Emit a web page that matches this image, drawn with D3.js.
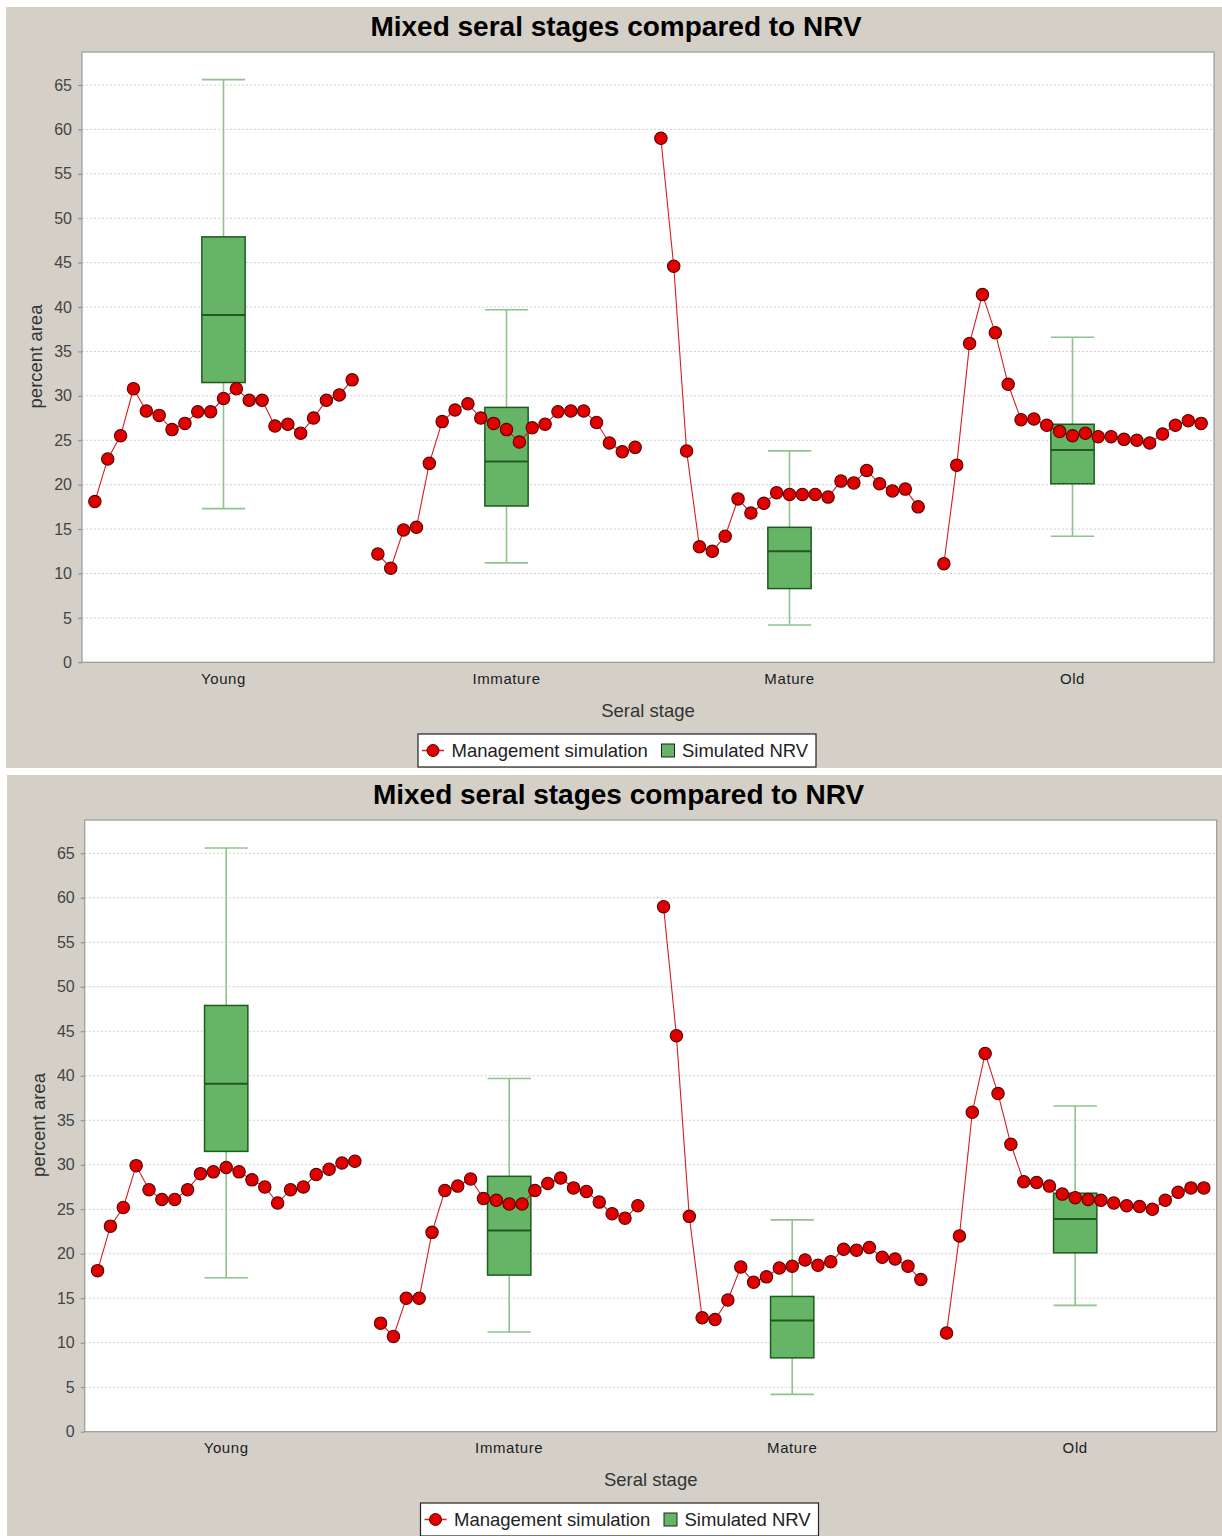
<!DOCTYPE html>
<html>
<head>
<meta charset="utf-8">
<script src="https://cdn.jsdelivr.net/npm/d3@7"></script>
<style>
  body { margin: 0; background: #ffffff; }
  svg { display: block; font-family: "Liberation Sans", Arial, sans-serif; }
</style>
</head>
<body>
<svg id="chart" width="1222" height="1536"></svg>
<script>
// Seral stage categories and y-axis ticks
const stages = ["Young", "Immature", "Mature", "Old"];
const yTicks = [0, 5, 10, 15, 20, 25, 30, 35, 40, 45, 50, 55, 60, 65];

// Simulated NRV box-and-whisker statistics per stage (percent area)
const nrvLow    = [17.3, 11.2, 4.2, 14.2];
const nrvQ1     = [31.5, 17.6, 8.3, 20.1];
const nrvMedian = [39.1, 22.6, 12.5, 23.9];
const nrvQ3     = [47.9, 28.7, 15.2, 26.8];
const nrvHigh   = [65.6, 39.7, 23.8, 36.6];

// Management simulation, first run: percent area per time step within each stage
const runAYoung    = [18.1, 22.9, 25.5, 30.8, 28.3, 27.8, 26.2, 26.9, 28.2, 28.2, 29.7, 30.8, 29.5, 29.5, 26.6, 26.8, 25.8, 27.5, 29.5, 30.1, 31.8];
const runAImmature = [12.2, 10.6, 14.9, 15.2, 22.4, 27.1, 28.4, 29.1, 27.5, 26.9, 26.2, 24.8, 26.4, 26.8, 28.2, 28.3, 28.3, 27.0, 24.7, 23.7, 24.2];
const runAMature   = [59.0, 44.6, 23.8, 13.0, 12.5, 14.2, 18.4, 16.8, 17.9, 19.1, 18.9, 18.9, 18.9, 18.6, 20.4, 20.2, 21.6, 20.1, 19.3, 19.5, 17.5];
const runAOld      = [11.1, 22.2, 35.9, 41.4, 37.1, 31.3, 27.3, 27.4, 26.7, 26.0, 25.5, 25.8, 25.4, 25.4, 25.1, 25.0, 24.7, 25.7, 26.7, 27.2, 26.9];

// Management simulation, second run
const runBYoung    = [18.1, 23.1, 25.2, 29.9, 27.2, 26.1, 26.1, 27.2, 29.0, 29.2, 29.7, 29.2, 28.3, 27.5, 25.7, 27.2, 27.5, 28.9, 29.5, 30.2, 30.4];
const runBImmature = [12.2, 10.7, 15.0, 15.0, 22.4, 27.1, 27.6, 28.4, 26.2, 26.0, 25.6, 25.6, 27.1, 27.9, 28.5, 27.4, 27.0, 25.8, 24.5, 24.0, 25.4];
const runBMature   = [59.0, 44.5, 24.2, 12.8, 12.6, 14.8, 18.5, 16.8, 17.4, 18.4, 18.6, 19.3, 18.7, 19.1, 20.5, 20.4, 20.7, 19.6, 19.4, 18.6, 17.1];
const runBOld      = [11.1, 22.0, 35.9, 42.5, 38.0, 32.3, 28.1, 28.0, 27.6, 26.7, 26.3, 26.1, 26.0, 25.7, 25.4, 25.3, 25.0, 26.0, 26.9, 27.4, 27.4];

const titleText = "Mixed seral stages compared to NRV";
const xTitle = "Seral stage";
const yTitle = "percent area";
const legendLine = "Management simulation";
const legendBox = "Simulated NRV";

const COLORS = {
  panel: "#d4d0c8",
  grid: "#cfcfcf",
  frame: "#9a9a9a",
  boxFill: "#66b566",
  boxStroke: "#1f5a1f",
  whisker: "#8cc48c",
  lineRed: "#d42020",
  dotFill: "#e10000",
  dotStroke: "#5a0000",
  text: "#333333"
};

const svg = d3.select("#chart");

function drawChart(cfg, runs) {
  const g = svg.append("g");

  // panel background
  g.append("rect")
    .attr("x", cfg.panel[0]).attr("y", cfg.panel[1])
    .attr("width", cfg.panel[2]).attr("height", cfg.panel[3])
    .attr("fill", COLORS.panel);

  const x = d3.scaleBand().domain(stages).range([cfg.left, cfg.right]).paddingInner(0).paddingOuter(0);
  const y = d3.scaleLinear().domain([0, 65]).range([cfg.y0, cfg.y65]);

  // plot area
  g.append("rect")
    .attr("x", cfg.left).attr("y", cfg.top)
    .attr("width", cfg.right - cfg.left).attr("height", cfg.y0 - cfg.top)
    .attr("fill", "#ffffff");

  // dashed horizontal grid
  g.append("g").selectAll("line")
    .data(yTicks.filter(t => t > 0))
    .join("line")
    .attr("x1", cfg.left).attr("x2", cfg.right)
    .attr("y1", d => y(d)).attr("y2", d => y(d))
    .attr("stroke", COLORS.grid)
    .attr("stroke-width", 1)
    .attr("stroke-dasharray", "2,2");

  // title
  g.append("text")
    .attr("x", cfg.titleX).attr("y", cfg.titleY)
    .attr("text-anchor", "middle")
    .attr("font-size", 28).attr("font-weight", "bold")
    .attr("fill", "#000")
    .text(titleText);

  // y axis
  const yAxis = g.append("g")
    .attr("transform", `translate(${cfg.left},0)`)
    .call(d3.axisLeft(y).tickValues(yTicks).tickSize(4).tickPadding(6).tickFormat(d3.format("d")));
  yAxis.select(".domain").remove();
  yAxis.selectAll(".tick line").attr("stroke", "#888");
  yAxis.selectAll(".tick text")
    .attr("font-size", 16).attr("fill", "#444")
    .attr("font-family", "'Liberation Sans', Arial, sans-serif");

  // x axis (category labels)
  const xAxis = g.append("g")
    .attr("transform", `translate(0,${cfg.y0})`)
    .call(d3.axisBottom(x).tickSize(0).tickPadding(11));
  xAxis.select(".domain").remove();
  xAxis.selectAll(".tick text")
    .attr("font-size", 15)
    .attr("letter-spacing", "0.6px")
    .attr("fill", "#1c1c1c")
    .attr("font-family", "'Liberation Sans', Arial, sans-serif");

  // plot frame
  g.append("rect")
    .attr("x", cfg.left).attr("y", cfg.top)
    .attr("width", cfg.right - cfg.left).attr("height", cfg.y0 - cfg.top)
    .attr("fill", "none").attr("stroke", COLORS.frame).attr("stroke-width", 1.2);

  // axis titles
  g.append("text")
    .attr("x", (cfg.left + cfg.right) / 2).attr("y", cfg.xTitleY)
    .attr("text-anchor", "middle").attr("font-size", 18.5).attr("fill", COLORS.text)
    .text(xTitle);
  g.append("text")
    .attr("transform", `translate(${cfg.yTitleX},${cfg.yTitleY}) rotate(-90)`)
    .attr("text-anchor", "middle").attr("font-size", 18.5).attr("fill", COLORS.text)
    .text(yTitle);

  // box-and-whisker (Simulated NRV)
  const bw = x.bandwidth() * 0.153;
  const boxes = stages.map((s, i) => ({
    stage: s, low: nrvLow[i], q1: nrvQ1[i], med: nrvMedian[i], q3: nrvQ3[i], high: nrvHigh[i]
  }));
  const bg = g.append("g").selectAll("g").data(boxes).join("g")
    .attr("transform", d => `translate(${x(d.stage) + x.bandwidth() / 2},0)`);
  bg.append("line").attr("x1", 0).attr("x2", 0)
    .attr("y1", d => y(d.high)).attr("y2", d => y(d.low))
    .attr("stroke", COLORS.whisker).attr("stroke-width", 1.6);
  bg.append("line").attr("x1", -bw / 2).attr("x2", bw / 2)
    .attr("y1", d => y(d.high)).attr("y2", d => y(d.high))
    .attr("stroke", COLORS.whisker).attr("stroke-width", 1.6);
  bg.append("line").attr("x1", -bw / 2).attr("x2", bw / 2)
    .attr("y1", d => y(d.low)).attr("y2", d => y(d.low))
    .attr("stroke", COLORS.whisker).attr("stroke-width", 1.6);
  bg.append("rect")
    .attr("x", -bw / 2).attr("width", bw)
    .attr("y", d => y(d.q3)).attr("height", d => y(d.q1) - y(d.q3))
    .attr("fill", COLORS.boxFill).attr("stroke", COLORS.boxStroke).attr("stroke-width", 1.5);
  bg.append("line").attr("x1", -bw / 2).attr("x2", bw / 2)
    .attr("y1", d => y(d.med)).attr("y2", d => y(d.med))
    .attr("stroke", COLORS.boxStroke).attr("stroke-width", 2);

  // management simulation lines, one segment per stage
  const step = x.bandwidth() / 22;
  const seg = stages.map((s, i) => runs[i].map((v, j) => ({ x: x(s) + (j + 1) * step, v })));
  const line = d3.line().x(d => d.x).y(d => y(d.v));
  const lg = g.append("g");
  lg.selectAll("path").data(seg).join("path")
    .attr("d", line).attr("fill", "none")
    .attr("stroke", COLORS.lineRed).attr("stroke-width", 1.1);
  lg.selectAll("g").data(seg).join("g").selectAll("circle")
    .data(d => d).join("circle")
    .attr("cx", d => d.x).attr("cy", d => y(d.v)).attr("r", 6.2)
    .attr("fill", COLORS.dotFill).attr("stroke", COLORS.dotStroke).attr("stroke-width", 1.1);

  // legend
  const L = cfg.legend;
  const leg = g.append("g").attr("transform", `translate(${L[0]},${L[1]})`);
  leg.append("rect").attr("x", 0).attr("y", 0).attr("width", L[2]).attr("height", L[3])
    .attr("fill", "#ffffff").attr("stroke", "#222").attr("stroke-width", 1.2);
  const my = L[3] / 2;
  leg.append("line").attr("x1", 4).attr("x2", 26).attr("y1", my).attr("y2", my)
    .attr("stroke", COLORS.lineRed).attr("stroke-width", 1.5);
  leg.append("circle").attr("cx", 15).attr("cy", my).attr("r", 6)
    .attr("fill", COLORS.dotFill).attr("stroke", COLORS.dotStroke).attr("stroke-width", 1);
  leg.append("text").attr("x", 33.5).attr("y", my + 6.5)
    .attr("font-size", 18.5).attr("fill", "#222").text(legendLine);
  leg.append("rect").attr("x", 243.5).attr("y", my - 6.5).attr("width", 13).attr("height", 13)
    .attr("fill", COLORS.boxFill).attr("stroke", "#222").attr("stroke-width", 1);
  leg.append("text").attr("x", 264).attr("y", my + 6.5)
    .attr("font-size", 18.5).attr("fill", "#222").text(legendBox);
}

drawChart({
  panel: [6, 7, 1216, 761],
  left: 82, right: 1214, top: 52, y0: 662.3, y65: 85,
  titleX: 616, titleY: 36,
  xTitleY: 716.5,
  yTitleX: 42.3, yTitleY: 356.5,
  legend: [418, 734, 398, 33]
}, [runAYoung, runAImmature, runAMature, runAOld]);

drawChart({
  panel: [7, 775, 1215, 761],
  left: 84.7, right: 1216.7, top: 820, y0: 1431.7, y65: 853.3,
  titleX: 618.5, titleY: 803.5,
  xTitleY: 1485.5,
  yTitleX: 44.8, yTitleY: 1125,
  legend: [420.5, 1503, 398, 33]
}, [runBYoung, runBImmature, runBMature, runBOld]);
</script>
</body>
</html>
